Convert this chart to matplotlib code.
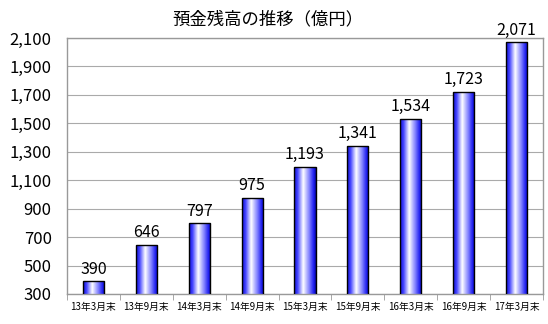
import numpy as np
import matplotlib.pyplot as plt
from matplotlib.colors import LinearSegmentedColormap

plt.rcParams['font.family'] = ['Noto Sans CJK JP', 'DejaVu Sans']

categories = ["13年3月末", "13年9月末", "14年3月末", "14年9月末", "15年3月末",
              "15年9月末", "16年3月末", "16年9月末", "17年3月末"]
values = [390, 646, 797, 975, 1193, 1341, 1534, 1723, 2071]
yticks = [300, 500, 700, 900, 1100, 1300, 1500, 1700, 1900, 2100]

fig = plt.figure(figsize=(5.48, 3.24), dpi=100)
ax = fig.add_axes([0.1223, 0.0926, 0.8686, 0.7901])

x = np.arange(len(categories))
width = 0.4
bars = ax.bar(x, values, width=width, color="none", edgecolor="black", linewidth=1.0, zorder=3)

# horizontal gradient fill: blue edges, white near centre
cmap = LinearSegmentedColormap.from_list(
    "bargrad",
    [(0.0, "#1010d0"), (0.15, "#4040ff"), (0.42, "#ffffff"),
     (0.7, "#8080ff"), (0.9, "#2020f0"), (1.0, "#0808b0")])
grad = np.linspace(0, 1, 64).reshape(1, -1)
for b in bars:
    x0 = b.get_x()
    im = ax.imshow(grad, cmap=cmap, aspect="auto", zorder=2,
                   extent=[x0, x0 + b.get_width(), 300, b.get_height()])
    im.set_clip_path(b)

for xi, v in zip(x, values):
    ax.text(xi, v + 25, f"{v:,}", ha="center", va="bottom", fontsize=11.5, zorder=4)

ax.set_xlim(-0.5, len(categories) - 0.5)
ax.set_ylim(300, 2100)
ax.set_yticks(yticks)
ax.set_yticklabels([f"{t:,}" for t in yticks], fontsize=12)
ax.set_xticks(x)
ax.set_xticklabels(categories, fontsize=7)
ax.set_xticks(np.arange(len(categories) + 1) - 0.5, minor=True)
ax.tick_params(axis="x", which="major", length=0, pad=6)
ax.tick_params(axis="x", which="minor", length=4, color="#999999")
ax.tick_params(axis="y", length=0, pad=11)
ax.yaxis.grid(True, color="#aaaaaa", linewidth=0.8, zorder=0)
ax.set_axisbelow(True)
for s in ax.spines.values():
    s.set_color("#999999")
    s.set_linewidth(1.0)

fig.text(0.489, 0.94, "預金残高の推移（億円）", ha="center", va="center", fontsize=12.5)

fig.savefig("out.png", dpi=100)
